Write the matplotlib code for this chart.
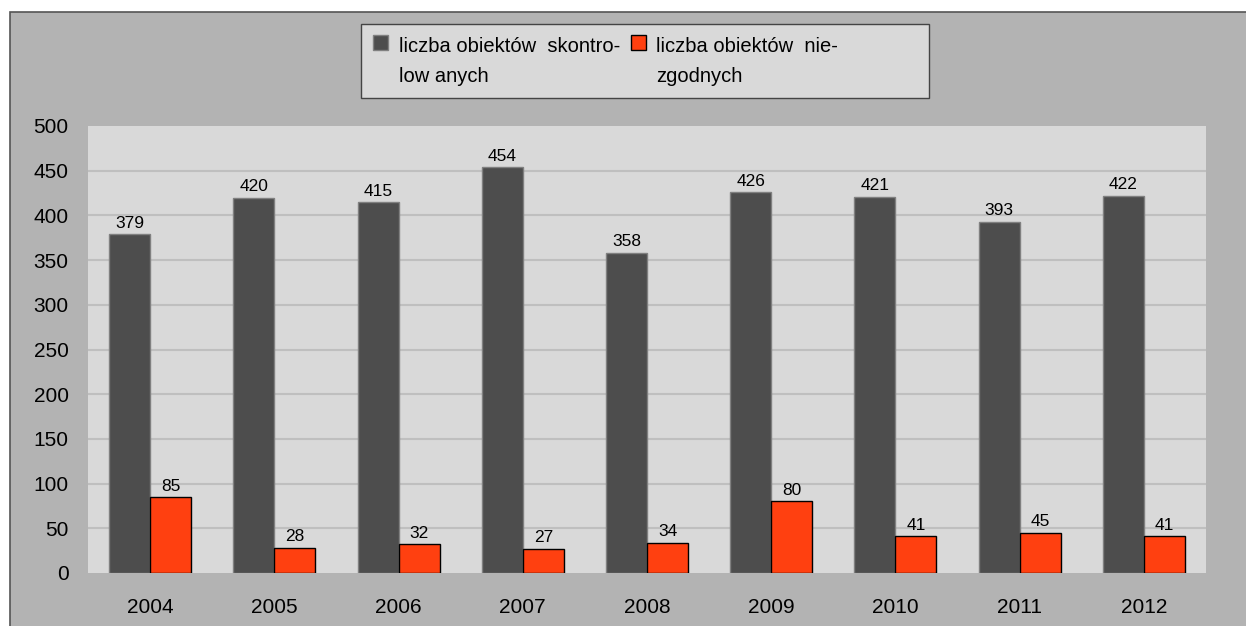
import matplotlib.pyplot as plt
from matplotlib.patches import Rectangle
import numpy as np

plt.rcParams['font.family'] = ['Liberation Sans', 'DejaVu Sans']

years = ['2004', '2005', '2006', '2007', '2008', '2009', '2010', '2011', '2012']
checked = [379, 420, 415, 454, 358, 426, 421, 393, 422]
nonconform = [85, 28, 32, 27, 34, 80, 41, 45, 41]
labels = ['liczba obiektów  skontro-\nlow anych', 'liczba obiektów  nie-\nzgodnych']
colors = ['#4d4d4d', '#ff4010']
edges = ['#808080', '#000000']

W, H = 1246, 626
fig = plt.figure(figsize=(W / 100, H / 100), dpi=100, facecolor='white')


def px(x0, y0, w, h):
    # pixel box (top-left origin) -> figure fraction
    return (x0 / W, 1 - (y0 + h) / H, w / W, h / H)


# grey chart area with dark border on top and left
x0, y0, w0, h0 = px(10, 12, W, H)
fig.patches.append(Rectangle((x0, y0), w0, h0, transform=fig.transFigure,
                             facecolor='#b3b3b3', edgecolor='#555555', linewidth=1.2, zorder=-5))

ax = fig.add_axes([88 / W, 53 / H, 1118 / W, 447 / H])
ax.set_facecolor('#d9d9d9')

x = np.arange(len(years))
w = 0.33
b1 = ax.bar(x - w / 2, checked, w, color=colors[0], edgecolor=edges[0], linewidth=1, zorder=3)
b2 = ax.bar(x + w / 2, nonconform, w, color=colors[1], edgecolor=edges[1], linewidth=1, zorder=3)
ax.bar_label(b1, padding=2.5, fontsize=12.5)
ax.bar_label(b2, padding=2.5, fontsize=12.5)

ax.set_xlim(-0.5, len(years) - 0.5)
ax.set_ylim(0, 500)
ax.set_yticks(range(0, 501, 50))
ax.set_xticks(x)
ax.set_xticklabels(years)
ax.tick_params(axis='both', length=0, labelsize=15)
ax.tick_params(axis='x', pad=18)
ax.tick_params(axis='y', pad=14)
for s in ax.spines.values():
    s.set_visible(False)
for v in range(50, 500, 50):
    ax.axhline(v, color='#bfbfbf', linewidth=1.5, zorder=1)

# legend box drawn by hand (handles sit next to the first text line)
lx, ly, lw, lh = px(361, 24, 568, 74)
fig.patches.append(Rectangle((lx, ly), lw, lh, transform=fig.transFigure,
                             facecolor='#d9d9d9', edgecolor='#444444', linewidth=1, zorder=-4))
for hx, tx, lab, c, e in zip([373, 631], [399, 656], labels, colors, edges):
    sx, sy, sw, sh = px(hx, 35, 15, 15)
    fig.patches.append(Rectangle((sx, sy), sw, sh, transform=fig.transFigure,
                                 facecolor=c, edgecolor=e, linewidth=1, zorder=-3))
    fig.text(tx / W, 1 - 37 / H, lab, fontsize=14.5, va='top', ha='left', linespacing=1.75)

fig.savefig('out.png', dpi=100)
